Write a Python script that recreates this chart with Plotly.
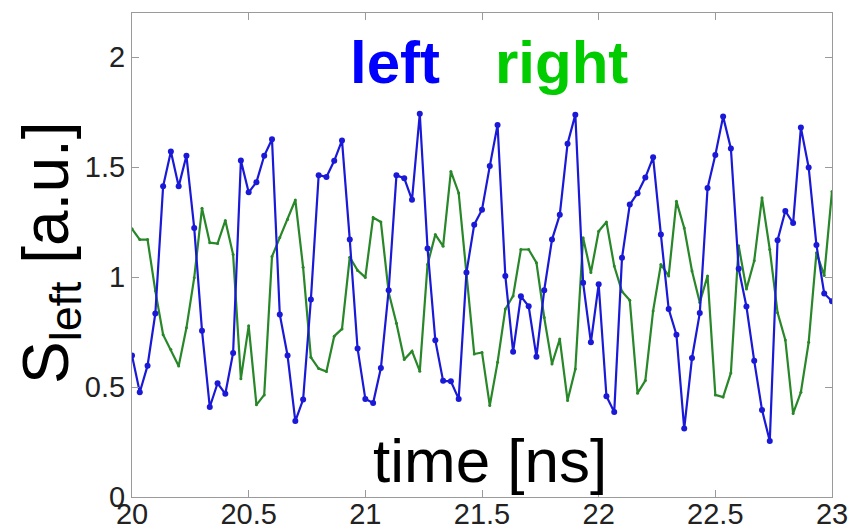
import plotly.graph_objects as go

# sampling: one sample every 1/30 ns from 20 ns to 23 ns
n_samples = 91
time_ns = [round(20 + i / 30, 5) for i in range(n_samples)]

left_signal = [
    0.643, 0.476, 0.597, 0.834, 1.412, 1.570, 1.412, 1.551, 1.223, 0.756,
    0.409, 0.517, 0.469, 0.655, 1.529, 1.385, 1.431, 1.551, 1.626, 0.830,
    0.643, 0.345, 0.443, 0.898, 1.463, 1.455, 1.528, 1.621, 1.170, 0.675,
    0.446, 0.427, 0.586, 0.940, 1.462, 1.449, 1.351, 1.742, 1.129, 0.712,
    0.528, 0.526, 0.446, 1.020, 1.238, 1.306, 1.504, 1.691, 1.005, 0.660,
    0.912, 0.867, 0.638, 0.940, 1.170, 1.283, 1.606, 1.738, 0.974, 0.703,
    0.967, 0.458, 0.386, 1.087, 1.329, 1.381, 1.452, 1.544, 1.193, 0.854,
    0.738, 0.311, 0.632, 0.836, 1.404, 1.555, 1.729, 1.584, 1.038, 0.866,
    0.619, 0.396, 0.255, 1.167, 1.300, 1.245, 1.679, 1.498, 1.145, 0.925,
    0.890,
]

right_signal = [
    1.219, 1.170, 1.170, 0.937, 0.738, 0.670, 0.595, 0.769, 0.997, 1.312,
    1.156, 1.152, 1.257, 1.102, 0.538, 0.778, 0.419, 0.464, 1.093, 1.179,
    1.261, 1.350, 1.044, 0.635, 0.584, 0.570, 0.731, 0.764, 1.090, 1.030,
    0.998, 1.270, 1.250, 0.930, 0.790, 0.625, 0.663, 0.572, 1.057, 1.193,
    1.140, 1.480, 1.382, 1.000, 0.650, 0.657, 0.416, 0.612, 0.854, 0.914,
    1.125, 1.125, 1.065, 0.816, 0.605, 0.718, 0.439, 0.582, 1.178, 1.020,
    1.208, 1.250, 1.050, 0.934, 0.894, 0.472, 0.529, 0.846, 1.057, 1.005,
    1.344, 1.223, 1.027, 0.884, 1.005, 0.464, 0.454, 0.564, 1.142, 0.945,
    1.074, 1.360, 1.125, 0.838, 0.714, 0.380, 0.476, 0.703, 1.110, 1.007,
    1.389,
]

x_ticks = [20, 20.5, 21, 21.5, 22, 22.5, 23]
x_tick_labels = ["20", "20.5", "21", "21.5", "22", "22.5", "23"]
y_ticks = [0, 0.5, 1, 1.5, 2]
y_tick_labels = ["0", "0.5", "1", "1.5", "2"]

W, H = 852, 531
L, R, T, B = 132, 20, 13, 34
pw, ph = W - L - R, H - T - B


def px(xp):
    return (xp - L) / pw


def py(yp):
    return (H - B - yp) / ph


fig = go.Figure()
fig.add_trace(go.Scatter(
    x=time_ns, y=right_signal, mode="lines+markers",
    line=dict(color="rgb(40,135,40)", width=2.2),
    marker=dict(color="rgb(40,135,40)", size=3),
    showlegend=False,
))
fig.add_trace(go.Scatter(
    x=time_ns, y=left_signal, mode="lines+markers",
    line=dict(color="rgb(25,25,215)", width=2.2),
    marker=dict(color="rgb(25,25,215)", size=6),
    showlegend=False,
))

axis_common = dict(
    showline=True, linecolor="#9a9a9a", linewidth=1.2, mirror="ticks",
    ticks="inside", ticklen=7, tickcolor="#9a9a9a", tickwidth=1,
    showgrid=False, zeroline=False, automargin=False,
    tickfont=dict(family="Liberation Sans, Arial", size=29, color="#222"),
)

fig.update_xaxes(range=[20, 23], tickvals=x_ticks, ticktext=x_tick_labels,
                 ticklabelstandoff=-9, **axis_common)
fig.update_yaxes(range=[0, 2.2], tickvals=y_ticks, ticktext=y_tick_labels,
                 **axis_common)

annotations = [
    dict(text="<b>left</b>", x=px(395), y=py(63), xref="paper", yref="paper",
         showarrow=False, xanchor="center", yanchor="middle",
         font=dict(family="Liberation Sans, Arial", size=60, color="#0000ff")),
    dict(text="<b>right</b>", x=px(561), y=py(63), xref="paper", yref="paper",
         showarrow=False, xanchor="center", yanchor="middle",
         font=dict(family="Liberation Sans, Arial", size=60, color="#00cc00")),
    dict(text="time [ns]", x=px(490), y=py(460), xref="paper", yref="paper",
         showarrow=False, xanchor="center", yanchor="middle",
         font=dict(family="Liberation Sans, Arial", size=62, color="#000")),
    dict(text="S<sub>left</sub> [a.u.]", x=px(50), y=py(253),
         xref="paper", yref="paper", textangle=-90,
         showarrow=False, xanchor="center", yanchor="middle",
         font=dict(family="Liberation Sans, Arial", size=64, color="#000")),
]

fig.update_layout(
    width=W, height=H,
    margin=dict(l=L, r=R, t=T, b=B, pad=0),
    plot_bgcolor="white", paper_bgcolor="white",
    annotations=annotations,
)

fig.write_html("out.html")
